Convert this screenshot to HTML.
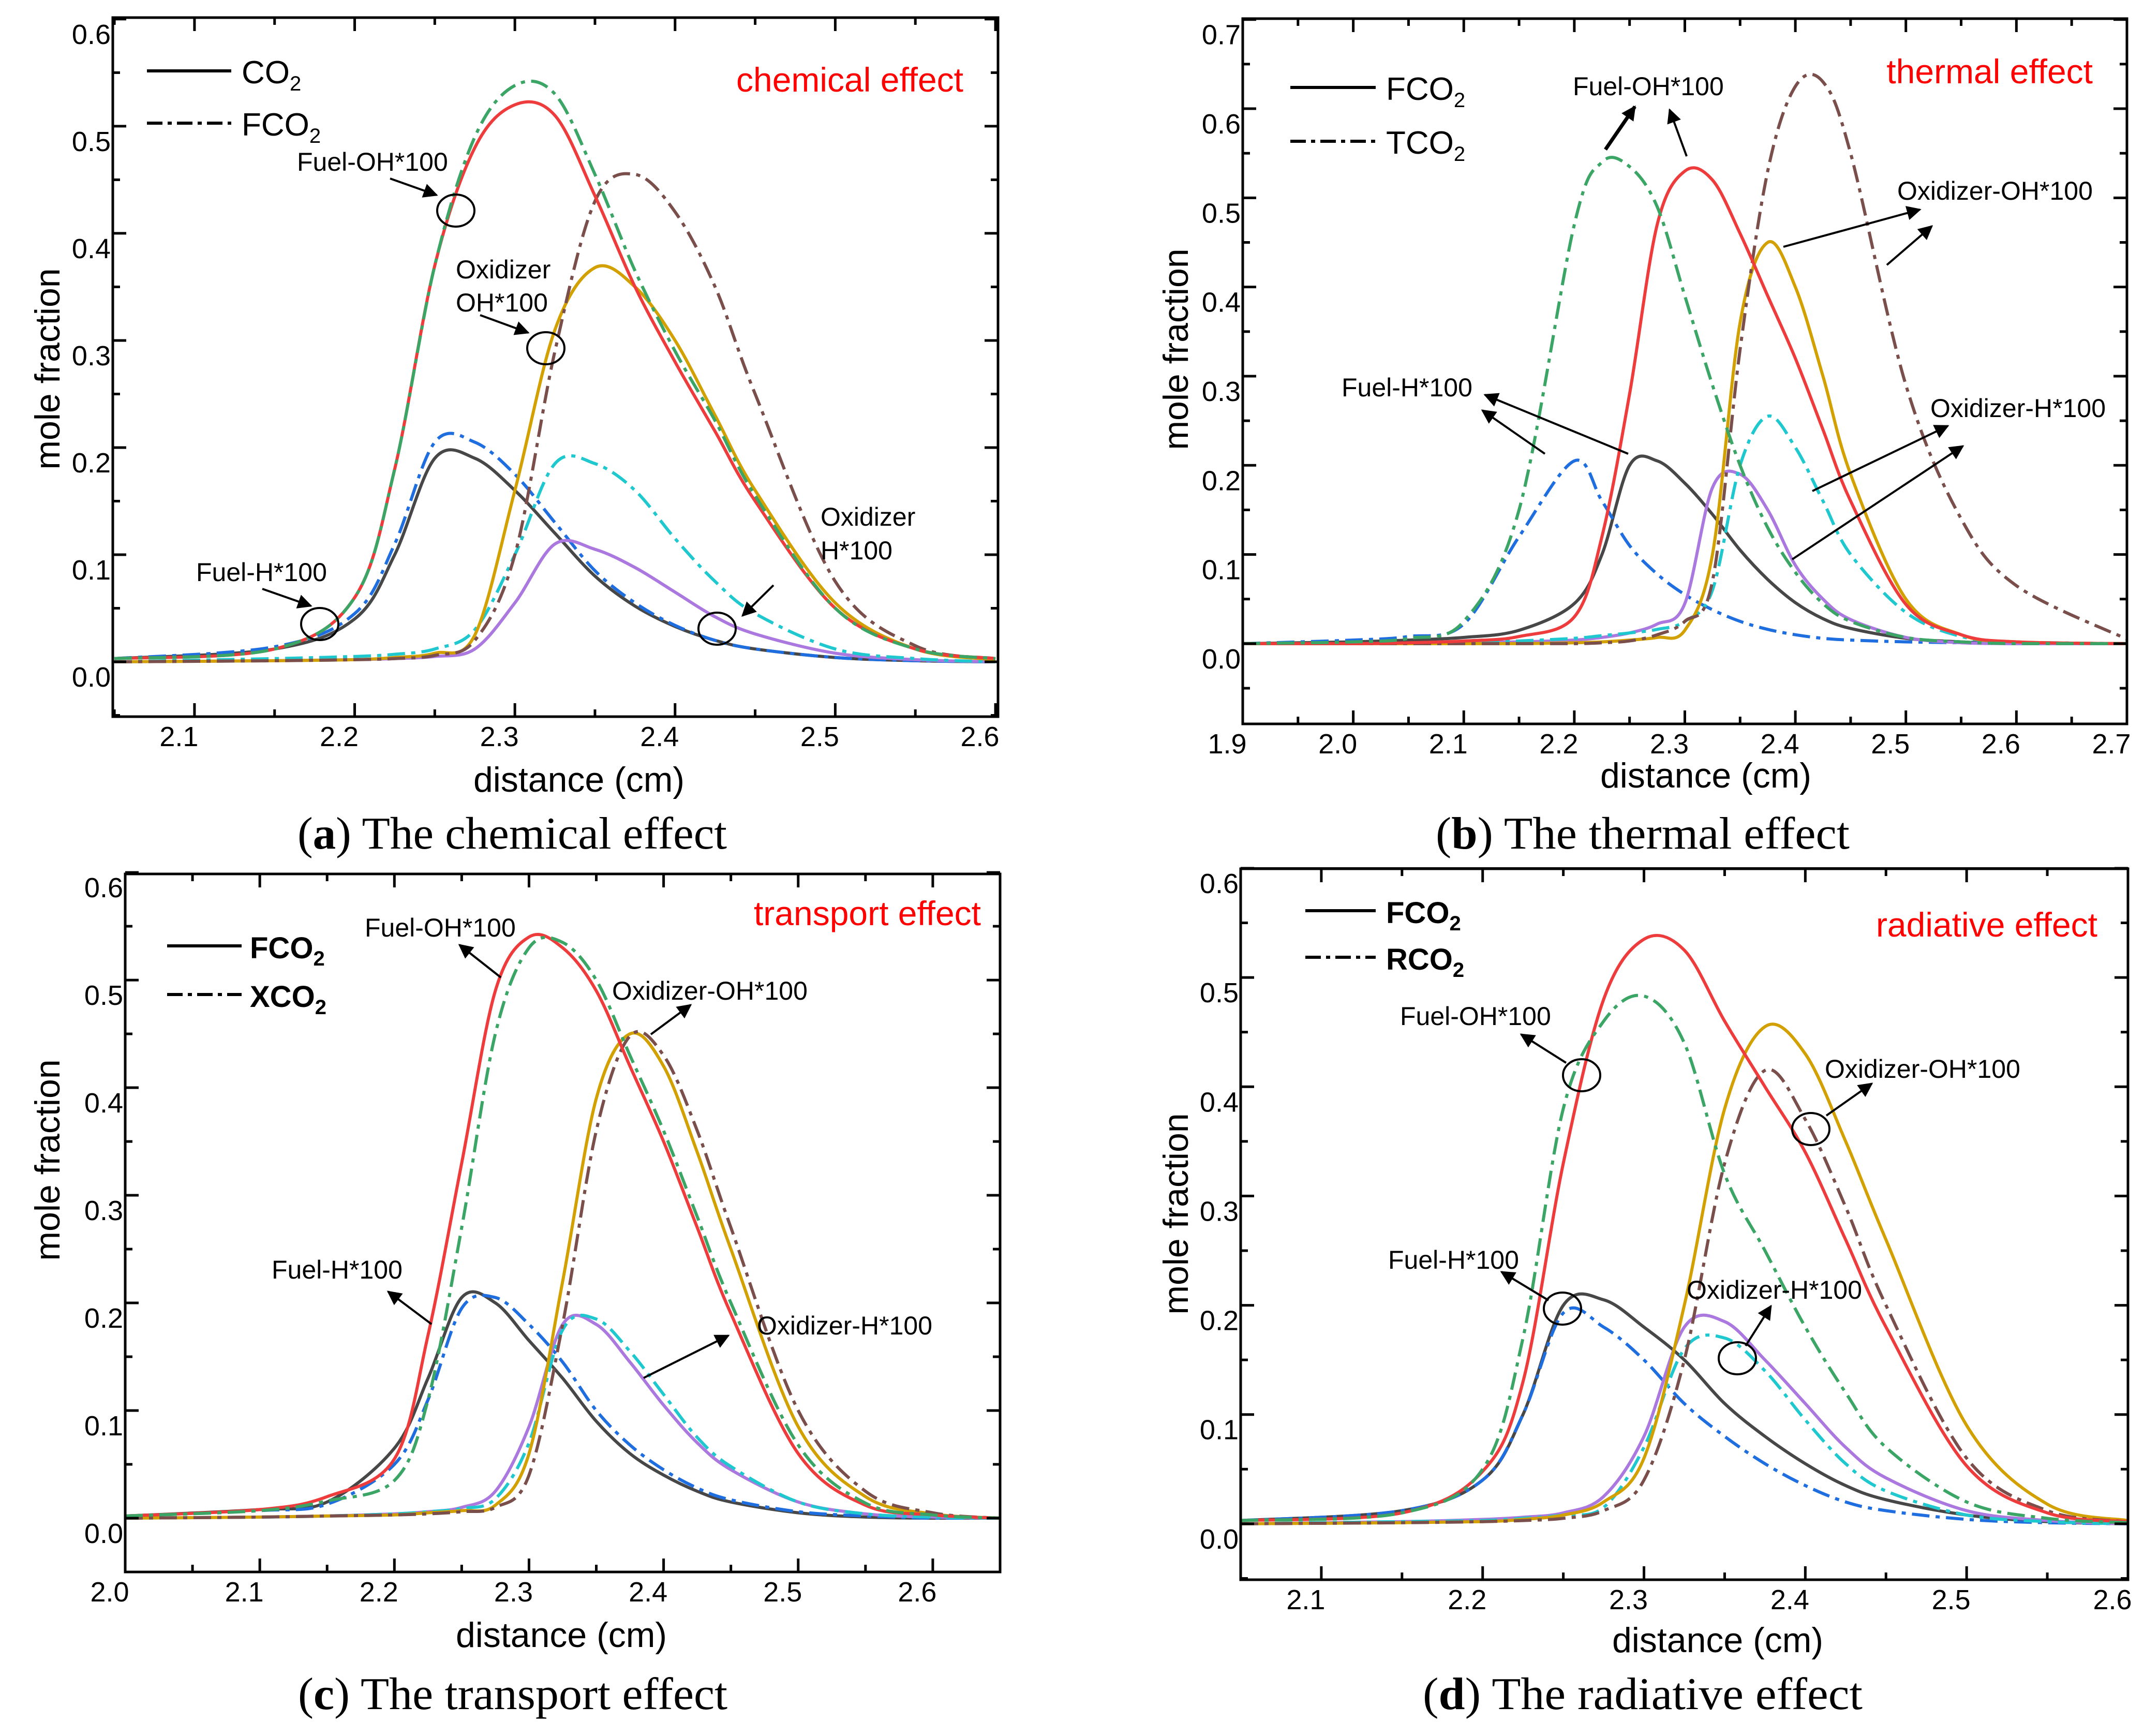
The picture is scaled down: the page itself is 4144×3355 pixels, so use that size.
<!DOCTYPE html>
<html><head><meta charset="utf-8"><title>Mole fraction effects</title>
<style>
html,body{margin:0;padding:0;background:#fff;}
svg{display:block;}
text{font-family:"Liberation Sans",sans-serif;}
</style></head>
<body>
<svg id="fig" width="4144" height="3355" viewBox="0 0 4144 3355" xmlns="http://www.w3.org/2000/svg">
<defs>
<marker id="ah" viewBox="0 0 10 10" refX="9" refY="5" markerWidth="7" markerHeight="7" orient="auto-start-reverse" markerUnits="userSpaceOnUse" style="overflow:visible">
<path d="M0,0 L10,5 L0,10 z" fill="#000" transform="scale(4)" transform-origin="9 5"/>
</marker>
</defs>
<rect x="0" y="0" width="4144" height="3355" fill="#fff"/>
<line x1="2399" y1="1678" x2="4114" y2="1678" stroke="#000" stroke-width="4"/>
</svg>
<script>
// ---------- Panel (a) chemical effect ----------
const aDist=[2.05,2.15,2.2,2.225,2.25,2.275,2.3,2.325,2.35,2.375,2.4,2.425,2.45,2.5,2.55,2.6];
const aFuelOH=[0.003,0.012,0.06,0.18,0.37,0.48,0.52,0.51,0.435,0.35,0.28,0.215,0.15,0.05,0.012,0.003];
const aFuelOHF=[0.003,0.012,0.06,0.18,0.37,0.49,0.538,0.53,0.455,0.365,0.29,0.225,0.155,0.05,0.012,0.003];
const aOxOH=[0,0.001,0.002,0.004,0.008,0.025,0.16,0.31,0.368,0.35,0.3,0.23,0.16,0.055,0.012,0.002];
const aOxOHF=[0,0.001,0.002,0.003,0.006,0.02,0.1,0.29,0.43,0.455,0.42,0.35,0.25,0.075,0.015,0.003];
const aFuelH=[0.003,0.012,0.04,0.1,0.19,0.19,0.16,0.12,0.08,0.052,0.033,0.02,0.012,0.004,0.001,0];
const aFuelHF=[0.003,0.014,0.045,0.11,0.205,0.205,0.175,0.13,0.085,0.055,0.034,0.02,0.012,0.004,0.001,0];
const aOxH=[0,0.001,0.002,0.003,0.005,0.012,0.055,0.11,0.105,0.088,0.065,0.042,0.026,0.008,0.002,0];
const aOxHF=[0,0.003,0.005,0.007,0.012,0.03,0.1,0.185,0.185,0.16,0.115,0.075,0.045,0.012,0.003,0];
// ---------- Panel (b) thermal effect ----------
const bDist=[1.9,2.0,2.05,2.1,2.15,2.2,2.225,2.25,2.275,2.3,2.325,2.35,2.375,2.4,2.425,2.45,2.5,2.55,2.6,2.7];
const bFuelOH=[0,0,0.001,0.003,0.008,0.03,0.12,0.28,0.47,0.53,0.52,0.46,0.39,0.32,0.24,0.16,0.044,0.01,0.002,0];
const bFuelOHT=[0,0.002,0.006,0.025,0.15,0.47,0.54,0.535,0.49,0.39,0.29,0.2,0.13,0.08,0.045,0.025,0.007,0.002,0,0];
const bOxOH=[0,0,0,0,0,0.001,0.002,0.004,0.007,0.015,0.1,0.36,0.45,0.4,0.3,0.19,0.05,0.01,0.002,0];
const bOxOHT=[0,0,0,0,0,0,0.001,0.003,0.01,0.025,0.07,0.33,0.53,0.625,0.63,0.55,0.29,0.14,0.065,0.005];
const bFuelH=[0,0.002,0.004,0.007,0.015,0.045,0.1,0.2,0.205,0.18,0.145,0.105,0.072,0.046,0.028,0.017,0.006,0.002,0,0];
const bFuelHT=[0,0.004,0.008,0.022,0.12,0.205,0.16,0.11,0.078,0.055,0.038,0.025,0.016,0.01,0.006,0.004,0.002,0.001,0,0];
const bOxH=[0,0,0,0.001,0.002,0.004,0.007,0.012,0.022,0.045,0.175,0.19,0.15,0.088,0.05,0.027,0.007,0.001,0,0];
const bOxHT=[0,0,0,0.001,0.003,0.006,0.009,0.012,0.016,0.025,0.06,0.2,0.255,0.22,0.16,0.1,0.035,0.008,0.002,0];
// ---------- Panel (c) transport effect ----------
const cDist=[2.0,2.1,2.15,2.2,2.225,2.25,2.275,2.3,2.325,2.35,2.375,2.4,2.425,2.45,2.5,2.55,2.6,2.65];
const cFuelOH=[0.002,0.008,0.02,0.055,0.17,0.33,0.49,0.54,0.53,0.49,0.42,0.35,0.27,0.19,0.06,0.012,0.003,0];
const cFuelOHX=[0.002,0.007,0.016,0.035,0.11,0.27,0.45,0.53,0.535,0.5,0.43,0.36,0.28,0.2,0.068,0.014,0.003,0];
const cOxOH=[0,0.001,0.002,0.003,0.005,0.007,0.012,0.06,0.22,0.39,0.45,0.42,0.34,0.25,0.085,0.02,0.004,0];
const cOxOHX=[0,0.001,0.002,0.003,0.004,0.006,0.01,0.04,0.18,0.36,0.448,0.43,0.36,0.27,0.1,0.025,0.005,0];
const cFuelH=[0.002,0.008,0.015,0.065,0.13,0.205,0.2,0.165,0.13,0.09,0.06,0.04,0.025,0.015,0.005,0.001,0,0];
const cFuelHX=[0.002,0.007,0.013,0.05,0.11,0.195,0.205,0.18,0.145,0.1,0.068,0.045,0.028,0.017,0.006,0.002,0,0];
const cOxH=[0,0.001,0.002,0.004,0.006,0.01,0.025,0.085,0.18,0.18,0.145,0.105,0.07,0.045,0.015,0.004,0.001,0];
const cOxHX=[0,0.001,0.002,0.004,0.006,0.009,0.018,0.07,0.175,0.185,0.155,0.115,0.075,0.048,0.015,0.004,0.001,0];
// ---------- Panel (d) radiative effect ----------
const dDist=[2.05,2.15,2.2,2.225,2.25,2.275,2.3,2.325,2.35,2.375,2.4,2.425,2.45,2.5,2.55,2.6];
const dFuelOH=[0.003,0.01,0.048,0.13,0.33,0.48,0.535,0.525,0.46,0.4,0.34,0.26,0.18,0.053,0.01,0.002];
const dFuelOHR=[0.003,0.01,0.05,0.17,0.38,0.46,0.483,0.44,0.32,0.25,0.18,0.12,0.07,0.02,0.005,0.001];
const dOxOH=[0,0.001,0.002,0.004,0.008,0.02,0.06,0.2,0.38,0.455,0.43,0.35,0.26,0.09,0.018,0.003];
const dOxOHR=[0,0.001,0.002,0.003,0.005,0.012,0.04,0.15,0.33,0.415,0.37,0.29,0.2,0.06,0.012,0.002];
const dFuelH=[0.003,0.012,0.04,0.1,0.2,0.205,0.18,0.15,0.11,0.08,0.055,0.035,0.022,0.008,0.002,0];
const dFuelHR=[0.003,0.012,0.04,0.1,0.193,0.18,0.15,0.11,0.08,0.055,0.035,0.02,0.012,0.004,0.001,0];
const dOxH=[0,0.002,0.004,0.006,0.01,0.025,0.08,0.18,0.185,0.15,0.11,0.07,0.042,0.012,0.003,0];
const dOxHR=[0,0.002,0.003,0.005,0.008,0.015,0.07,0.16,0.17,0.14,0.095,0.055,0.03,0.008,0.002,0];

const xTicksA=[2.1,2.2,2.3,2.4,2.5,2.6];
const xTicksB=[1.9,2.0,2.1,2.2,2.3,2.4,2.5,2.6,2.7];
const xTicksC=[2.0,2.1,2.2,2.3,2.4,2.5,2.6];
const yTicks6=[0.0,0.1,0.2,0.3,0.4,0.5,0.6];
const yTicks7=[0.0,0.1,0.2,0.3,0.4,0.5,0.6,0.7];

const NS='http://www.w3.org/2000/svg';
const svg=document.getElementById('fig');
const C={red:'#ee3b3b',green:'#3aa565',yellow:'#d2a000',brown:'#7a4e4a',gray:'#474747',blue:'#1f6ee0',purple:'#aa78de',cyan:'#1fc8cf'};
const DASH='34 12 8 12';

function mk(tag,attrs,parent){const e=document.createElementNS(NS,tag);for(const k in attrs)e.setAttribute(k,attrs[k]);(parent||svg).appendChild(e);return e;}

function crPath(p,ymaxPix){
  const n=p.length;
  let d='M'+p[0][0].toFixed(1)+','+p[0][1].toFixed(1);
  for(let i=0;i<n-1;i++){
    const p0=p[Math.max(0,i-1)],p1=p[i],p2=p[i+1],p3=p[Math.min(n-1,i+2)];
    const c1x=p1[0]+(p2[0]-p0[0])/6, c1y=Math.min(ymaxPix,p1[1]+(p2[1]-p0[1])/6);
    const c2x=p2[0]-(p3[0]-p1[0])/6, c2y=Math.min(ymaxPix,p2[1]-(p3[1]-p1[1])/6);
    d+=' C'+c1x.toFixed(1)+','+c1y.toFixed(1)+' '+c2x.toFixed(1)+','+c2y.toFixed(1)+' '+p2[0].toFixed(1)+','+p2[1].toFixed(1);
  }
  return d;
}

const panels=[
 {id:'a',box:{l:218,r:1929,t:34,b:1385},xd:[2.049,2.6016],yd:[-0.0512,0.6014],xt:xTicksA,yt:yTicks6,dist:aDist,
  series:[['fuel-h-co2',aFuelH,C.gray,0],['fuel-h-fco2',aFuelHF,C.blue,1],['oxidizer-h-co2',aOxH,C.purple,0],['oxidizer-h-fco2',aOxHF,C.cyan,1],
          ['oxidizer-oh-co2',aOxOH,C.yellow,0],['oxidizer-oh-fco2',aOxOHF,C.brown,1],['fuel-oh-co2',aFuelOH,C.red,0],['fuel-oh-fco2',aFuelOHF,C.green,1]],
  leg:[['CO',false],['FCO',false]],legX:[284,447,467],legY:[137,238],legBold:false,
  eff:['chemical effect',1862,177],ytitle:[91,713],xtitle:[1119,1530],cap:['a','The chemical effect',990,1640,830],
  notes:[['Fuel-OH*100',574,330],['Oxidizer',881,538],['OH*100',881,602],['Fuel-H*100',379,1123],['Oxidizer',1586,1016],['H*100',1586,1081]],
  arrows:[[754,345,844,377,4],[928,609,1021,643,4],[507,1138,601,1171,4],[1495,1131,1435,1190,4]],
  circles:[[881,407],[1055,673],[618,1206],[1386,1215]]},
 {id:'b',box:{l:2402,r:4111,t:36,b:1399},xd:[1.9,2.7],yd:[-0.09,0.701],xt:xTicksB,yt:yTicks7,dist:bDist,
  series:[['fuel-h-fco2',bFuelH,C.gray,0],['fuel-h-tco2',bFuelHT,C.blue,1],['oxidizer-h-fco2',bOxH,C.purple,0],['oxidizer-h-tco2',bOxHT,C.cyan,1],
          ['oxidizer-oh-fco2',bOxOH,C.yellow,0],['oxidizer-oh-tco2',bOxOHT,C.brown,1],['fuel-oh-fco2',bFuelOH,C.red,0],['fuel-oh-tco2',bFuelOHT,C.green,1]],
  leg:[['FCO',false],['TCO',false]],legX:[2494,2659,2679],legY:[169,273],legBold:false,
  eff:['thermal effect',4045,161],ytitle:[2272,675],xtitle:[3297,1522],cap:['b','The thermal effect',3175,1640,800],
  notes:[['Fuel-OH*100',3040,184],['Oxidizer-OH*100',3667,386],['Fuel-H*100',2593,766],['Oxidizer-H*100',3731,806]],
  arrows:[[3103,289,3160,206,7],[3260,302,3227,212,4],[3447,477,3711,405,4],[3647,512,3734,437,4],[3147,877,2870,763,4],[2986,877,2865,793,4],[3503,949,3765,823,4],[3464,1081,3794,862,4]],
  circles:[]},
 {id:'c',box:{l:242,r:1933,t:1689,b:3038},xd:[2.0,2.65],yd:[-0.05,0.5986],xt:xTicksC,yt:yTicks6,dist:cDist,
  series:[['fuel-h-fco2',cFuelH,C.gray,0],['fuel-h-xco2',cFuelHX,C.blue,1],['oxidizer-h-fco2',cOxH,C.purple,0],['oxidizer-h-xco2',cOxHX,C.cyan,1],
          ['oxidizer-oh-fco2',cOxOH,C.yellow,0],['oxidizer-oh-xco2',cOxOHX,C.brown,1],['fuel-oh-fco2',cFuelOH,C.red,0],['fuel-oh-xco2',cFuelOHX,C.green,1]],
  leg:[['FCO',true],['XCO',true]],legX:[323,467,483],legY:[1828,1922],legBold:true,
  eff:['transport effect',1896,1788],ytitle:[91,2242],xtitle:[1085,3183],cap:['c','The transport effect',991,3303,830],
  notes:[['Fuel-OH*100',705,1810],['Oxidizer-OH*100',1183,1932],['Fuel-H*100',525,2471],['Oxidizer-H*100',1463,2579]],
  arrows:[[968,1889,888,1826,4],[1258,1999,1335,1942,4],[834,2559,750,2496,4],[1244,2663,1408,2581,4]],
  circles:[]},
 {id:'d',box:{l:2398,r:4113,t:1679,b:3053},xd:[2.05,2.6],yd:[-0.0512,0.5995],xt:xTicksA,yt:yTicks6,dist:dDist,
  series:[['fuel-h-fco2',dFuelH,C.gray,0],['fuel-h-rco2',dFuelHR,C.blue,1],['oxidizer-h-fco2',dOxH,C.purple,0],['oxidizer-h-rco2',dOxHR,C.cyan,1],
          ['oxidizer-oh-fco2',dOxOH,C.yellow,0],['oxidizer-oh-rco2',dOxOHR,C.brown,1],['fuel-oh-fco2',dFuelOH,C.red,0],['fuel-oh-rco2',dFuelOHR,C.green,1]],
  leg:[['FCO',true],['RCO',true]],legX:[2523,2659,2679],legY:[1760,1850],legBold:true,
  eff:['radiative effect',4054,1810],ytitle:[2272,2346],xtitle:[3320,3193],cap:['d','The radiative effect',3175,3303,850],
  notes:[['Fuel-OH*100',2706,1981],['Oxidizer-OH*100',3527,2083],['Fuel-H*100',2683,2452],['Oxidizer-H*100',3260,2510]],
  arrows:[[3027,2054,2940,1999,4],[3530,2156,3618,2094,4],[2993,2513,2902,2458,4],[3374,2601,3423,2524,4]],
  circles:[[3057,2078],[3500,2182],[3020,2529],[3358,2625]]}
];

panels.forEach(P=>{
  const B=P.box;
  const g=mk('g',{});
  
  
  const X=v=>B.l+(v-P.xd[0])/(P.xd[1]-P.xd[0])*(B.r-B.l);
  const Y=v=>B.b-(v-P.yd[0])/(P.yd[1]-P.yd[0])*(B.b-B.t);
  const cp=mk('clipPath',{id:'clip'+P.id},g);
  mk('rect',{x:B.l,y:B.t,width:B.r-B.l,height:B.b-B.t},cp);
  const sg=mk('g',{'clip-path':'url(#clip'+P.id+')'},g);
  P.series.forEach(s=>{
    const pts=P.dist.map((d,i)=>[X(d),Y(s[1][i])]);
    const el=mk('path',{d:crPath(pts,Y(0)),fill:'none',stroke:s[2],'stroke-width':6,'stroke-linejoin':'round'},sg);
    if(s[3])el.setAttribute('stroke-dasharray',DASH);
    
    
  });
  const fr=mk('rect',{x:B.l,y:B.t,width:B.r-B.l,height:B.b-B.t,fill:'none',stroke:'#000','stroke-width':5},g);
  
  
  const xs=[];
  for(let v=Math.ceil(P.xd[0]/0.05-1e-6)*0.05;v<=P.xd[1]+1e-6;v+=0.05)xs.push(v);
  xs.forEach(v=>{
    const major=P.xt.some(t=>Math.abs(t-v)<1e-6);
    const L=major?26:14, x=X(v);
    mk('line',{x1:x,y1:B.b,x2:x,y2:B.b-L,stroke:'#000','stroke-width':5},g);
    mk('line',{x1:x,y1:B.t,x2:x,y2:B.t+L,stroke:'#000','stroke-width':5},g);
  });
  P.xt.forEach(v=>{
    const t=mk('text',{x:X(v)-30,y:B.b+57,'font-size':54,'text-anchor':'middle'},g);
    t.textContent=v.toFixed(1);
    
    
  });
  const ymaxT=P.yt[P.yt.length-1];
  for(let v=-0.05;v<=ymaxT+0.001;v+=0.05){
    if(v<P.yd[0])continue;
    const major=P.yt.some(t=>Math.abs(t-v)<1e-6);
    const L=major?26:14,y=Y(v);
    mk('line',{x1:B.l,y1:y,x2:B.l+L,y2:y,stroke:'#000','stroke-width':5},g);
    mk('line',{x1:B.r,y1:y,x2:B.r-L,y2:y,stroke:'#000','stroke-width':5},g);
  }
  P.yt.forEach(v=>{
    const t=mk('text',{x:B.l-4,y:Y(v)+48,'font-size':54,'text-anchor':'end'},g);
    t.textContent=v.toFixed(1);
    
    
  });
  const yt=mk('text',{x:P.ytitle[0],y:P.ytitle[1],'font-size':68,'text-anchor':'middle',transform:'rotate(-90 '+P.ytitle[0]+' '+P.ytitle[1]+')',dy:'0.35em'},g);
  yt.textContent='mole fraction';
  
  
  const xt=mk('text',{x:P.xtitle[0],y:P.xtitle[1],'font-size':68,'text-anchor':'middle'},g);
  xt.textContent='distance (cm)';
  
  
  const ef=mk('text',{x:P.eff[1],y:P.eff[2],'font-size':66,'text-anchor':'end',fill:'#ff0000'},g);
  ef.textContent=P.eff[0];
  
  
  P.leg.forEach((L,i)=>{
    const lg=mk('g',{},g);
    
    
    const ln=mk('line',{x1:P.legX[0],y1:P.legY[i],x2:P.legX[1],y2:P.legY[i],stroke:'#000','stroke-width':6},lg);
    if(i===1)ln.setAttribute('stroke-dasharray','30 10 8 10');
    const t=mk('text',{x:P.legX[2],y:P.legY[i]+24,'font-size':P.legBold?58:62,'font-weight':P.legBold?'bold':'normal'},lg);
    t.textContent=L[0];
    const sub=mk('tspan',{'font-size':40,dy:14},t);
    sub.textContent='2';
  });
  P.notes.forEach(n=>{
    const t=mk('text',{x:n[1],y:n[2],'font-size':50},g);
    t.textContent=n[0];
    
    
  });
  P.arrows.forEach(a=>{
    const l=mk('line',{x1:a[0],y1:a[1],x2:a[2],y2:a[3],stroke:'#000','stroke-width':a[4],'marker-end':'url(#ah)'},g);
    
    
  });
  P.circles.forEach(c=>{
    const e=mk('ellipse',{cx:c[0],cy:c[1],rx:36,ry:31,fill:'none',stroke:'#000','stroke-width':4},g);
    
    
  });
  const cap=mk('text',{x:P.cap[2],y:P.cap[3],'font-size':88,'text-anchor':'middle',textLength:P.cap[4],lengthAdjust:'spacingAndGlyphs',style:'font-family:"Liberation Serif",serif'},g);
  cap.appendChild(document.createTextNode('('));
  const bb=mk('tspan',{'font-weight':'bold'},cap);
  bb.textContent=P.cap[0];
  cap.appendChild(document.createTextNode(') '+P.cap[1]));
  
  
});
</script>
</body></html>
